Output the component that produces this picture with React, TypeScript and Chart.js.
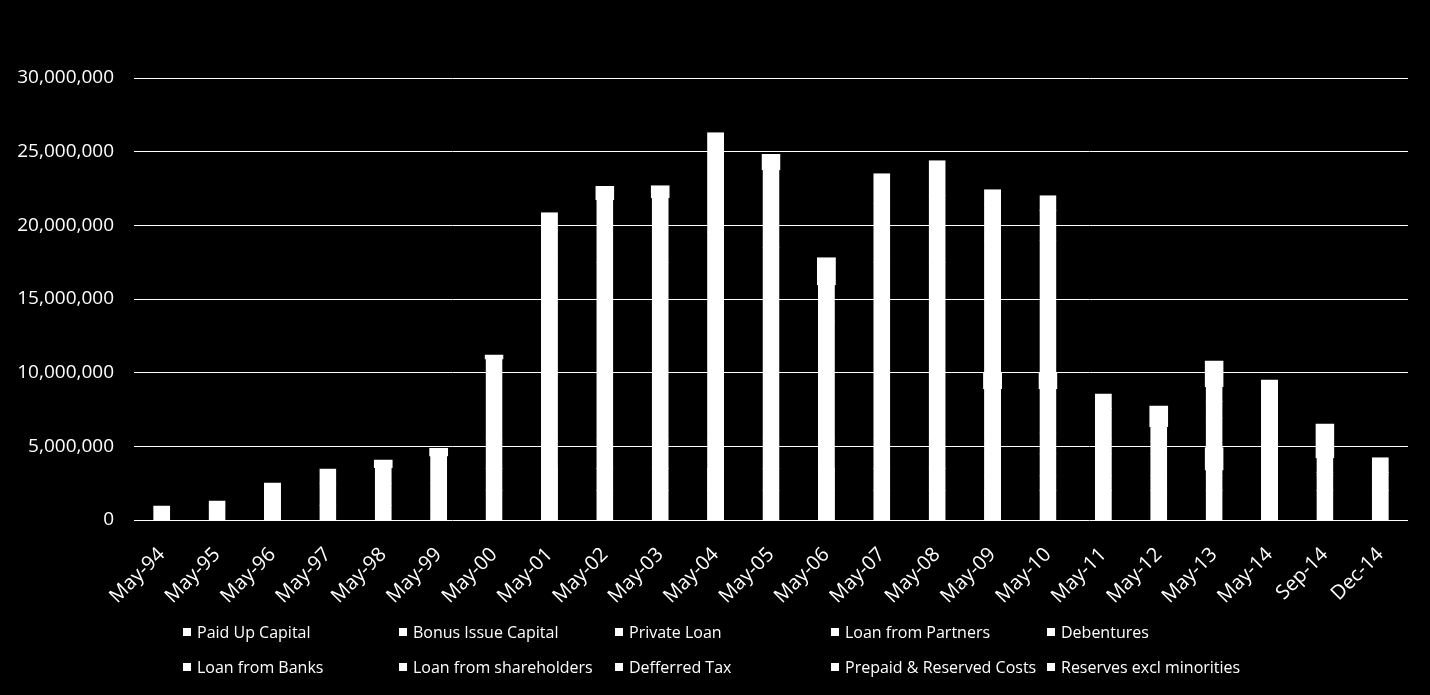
import React, { useEffect, useRef } from "react";
import { Chart, registerables } from "chart.js";

Chart.register(...registerables);

const categories = [
  "May-94", "May-95", "May-96", "May-97", "May-98", "May-99", "May-00", "May-01",
  "May-02", "May-03", "May-04", "May-05", "May-06", "May-07", "May-08", "May-09",
  "May-10", "May-11", "May-12", "May-13", "May-14", "Sep-14", "Dec-14",
];

const seriesNames = [
  "Paid Up Capital",
  "Bonus Issue Capital",
  "Private Loan",
  "Loan from Partners",
  "Debentures",
  "Loan from Banks",
  "Loan from shareholders",
  "Defferred Tax",
  "Prepaid & Reserved Costs",
  "Reserves excl minorities",
];

const paidUpCapital = [950000, 1000000, 1000000, 1000000, 1000000, 1000000, 2000000, 2000000, 2000000, 2000000, 2000000, 2000000, 2000000, 2000000, 2000000, 2000000, 2000000, 2000000, 2000000, 2000000, 2000000, 2000000, 2000000];
const bonusIssueCapital = [0, 0, 0, 0, 0, 0, 0, 0, 0, 0, 0, 0, 0, 0, 0, 1000000, 1000000, 1000000, 1000000, 1000000, 1000000, 1000000, 1000000];
const privateLoan = [0, 290000, 1510000, 1500000, 1500000, 1500000, 1500000, 1500000, 1500000, 1500000, 1500000, 1500000, 1500000, 1500000, 1500000, 1500000, 1500000, 1500000, 1500000, 400000, 1500000, 0, 0];
const loanFromPartners = [0, 0, 0, 960000, 1060000, 1850000, 2000000, 2000000, 2000000, 2000000, 2000000, 2000000, 2000000, 2000000, 2000000, 1400000, 1400000, 1000000, 0, 0, 0, 0, 0];
const debentures = [0, 0, 0, 0, 0, 0, 5430000, 12000000, 12000000, 12000000, 14000000, 13000000, 8000000, 12000000, 12000000, 3000000, 3000000, 0, 0, 0, 0, 0, 0];
const loanFromBanks = [0, 0, 0, 0, 0, 0, 0, 0, 0, 0, 0, 0, 0, 0, 0, 1090000, 1090000, 0, 0, 1510000, 0, 0, 0];
const loanFromShareholders = [0, 0, 0, 0, 0, 0, 0, 3350000, 4240000, 4370000, 6790000, 5280000, 2470000, 4000000, 4500000, 9000000, 9000000, 0, 0, 2000000, 3000000, 0, 0];
const defferredTax = [0, 0, 0, 0, 0, 0, 0, 0, 0, 0, 0, 0, 0, 2000000, 2390000, 2430000, 2020000, 2060000, 840000, 1140000, 1010000, 230000, 230000];
const prepaidReservedCosts = [0, 0, 0, 0, 0, 0, 0, 0, 0, 0, 0, 0, 0, 0, 0, 1000000, 1000000, 1000000, 1000000, 1000000, 1000000, 1000000, 1000000];
const reservesExclMinorities = [0, 0, 0, 0, 520000, 520000, 270000, 0, 900000, 820000, 0, 1020000, 1830000, 0, 0, 0, 0, 0, 1400000, 1750000, 0, 2290000, 0];

const yTicks = [0, 5000000, 10000000, 15000000, 20000000, 25000000, 30000000];

const FONT = "'Open Sans', 'Noto Sans', sans-serif";

export default function App() {
  const ref = useRef<HTMLCanvasElement>(null);

  useEffect(() => {
    document.body.style.margin = "0";
    document.body.style.background = "#000";
    const series = [
      paidUpCapital, bonusIssueCapital, privateLoan, loanFromPartners, debentures,
      loanFromBanks, loanFromShareholders, defferredTax, prepaidReservedCosts, reservesExclMinorities,
    ];
    const wide = [false, false, false, false, false, true, false, false, false, true];
    const chart = new Chart(ref.current as HTMLCanvasElement, {
      type: "bar",
      data: {
        labels: categories,
        datasets: seriesNames.map((name, i) => ({
          label: name,
          data: series[i],
          backgroundColor: "#ffffff",
          borderColor: "#ffffff",
          borderWidth: 1,
          borderSkipped: false,
          inflateAmount: 0.5,
          barThickness: wide[i] ? 18 : 16,
        })),
      },
      options: {
        responsive: false,
        animation: false,
        layout: { padding: { top: 78, right: 22, left: 0, bottom: 0 } },
        plugins: { legend: { display: false }, tooltip: { enabled: false } },
        scales: {
          x: {
            stacked: true,
            grid: { display: false },
            border: { display: false },
            ticks: {
              color: "#ffffff",
              font: { family: FONT, size: 20 },
              maxRotation: 45,
              minRotation: 45,
              autoSkip: false,
              padding: 15,
            },
            afterFit: (s: any) => {
              s.height = 175;
            },
          },
          y: {
            stacked: true,
            min: 0,
            max: 30000000,
            afterBuildTicks: (s: any) => {
              s.ticks = yTicks.map((v) => ({ value: v }));
            },
            ticks: {
              color: "#ffffff",
              font: { family: FONT, size: 19 },
              padding: 20,
              callback: (v: any) => Number(v).toLocaleString("en-US"),
            },
            grid: { color: "#ffffff", lineWidth: 1, drawTicks: false },
            border: { display: false },
            afterFit: (s: any) => {
              s.width = 134;
            },
          },
        },
      },
    });
    return () => chart.destroy();
  }, []);

  return (
    <div style={{ position: "relative", width: 1430, height: 695, background: "#000", overflow: "hidden" }}>
      <canvas ref={ref} width={1430} height={695} style={{ display: "block" }} />
      {seriesNames.map((name, i) => {
        const col = i % 5;
        const row = Math.floor(i / 5);
        return (
          <div
            key={name}
            style={{
              position: "absolute",
              left: 183 + col * 216,
              top: 621 + row * 35,
              height: 22,
              display: "flex",
              alignItems: "center",
              color: "#ffffff",
              fontFamily: FONT,
              fontSize: 16,
              whiteSpace: "nowrap",
            }}
          >
            <span style={{ display: "inline-block", width: 8, height: 8, background: "#ffffff", marginRight: 6 }} />
            {name}
          </div>
        );
      })}
    </div>
  );
}
